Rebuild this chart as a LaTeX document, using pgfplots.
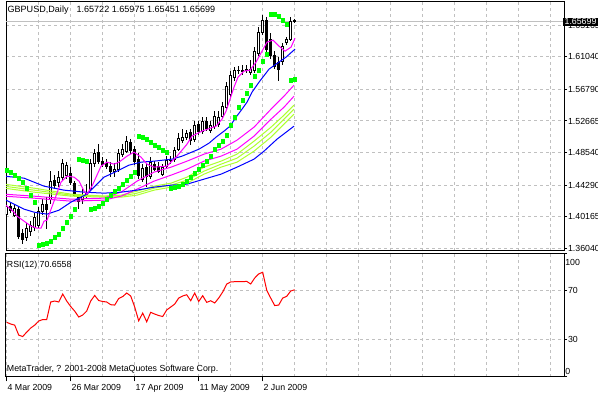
\documentclass[border=0pt]{standalone}
\usepackage{fontspec}
\setmainfont{Liberation Sans}
\usepackage{pgfplots}
\pgfplotsset{compat=1.18}
\usepackage{pgfplotstable}
\usetikzlibrary{calc}
\newcommand\mt{\fontsize{6.6pt}{8pt}\selectfont}
\definecolor{mtgrid}{RGB}{192,192,192}
\definecolor{mtmag}{RGB}{255,0,255}
\definecolor{mtgy}{RGB}{173,255,47}
\definecolor{mtblue}{RGB}{0,0,255}
\definecolor{mtlime}{RGB}{0,255,0}

\pgfplotstableread{
i o h l c
0 1.40514 1.42079 1.39861 1.41557
1 1.41557 1.41948 1.40644 1.41035
2 1.40383 1.41818 1.40122 1.41296
3 1.41166 1.41427 1.37253 1.37644
4 1.38035 1.38557 1.36601 1.37253
5 1.37514 1.39340 1.36992 1.38688
6 1.38296 1.39601 1.37644 1.39079
7 1.38818 1.40644 1.38296 1.40122
8 1.39079 1.41427 1.38688 1.40905
9 1.40905 1.42470 1.40383 1.41818
10 1.41818 1.42731 1.38557 1.41166
11 1.42470 1.46122 1.41818 1.44818
12 1.44948 1.45600 1.43774 1.44296
13 1.44687 1.46122 1.44035 1.45340
14 1.45340 1.47687 1.44818 1.47166
15 1.45600 1.47296 1.45079 1.46905
16 1.45861 1.46644 1.44296 1.44687
17 1.44557 1.44818 1.42731 1.42992
18 1.42731 1.42992 1.41166 1.42209
19 1.42470 1.43774 1.41818 1.42992
20 1.42992 1.44426 1.42470 1.43383
21 1.43774 1.47687 1.43513 1.47166
22 1.47166 1.48992 1.46644 1.48470
23 1.48600 1.49644 1.47035 1.47426
24 1.47426 1.47948 1.46644 1.47035
25 1.47166 1.47687 1.46383 1.46774
26 1.46774 1.47296 1.45340 1.46122
27 1.46122 1.47166 1.45340 1.46383
28 1.46383 1.48992 1.45992 1.48470
29 1.48339 1.49644 1.47948 1.48992
30 1.48731 1.50687 1.48470 1.50035
31 1.49905 1.50296 1.48339 1.48861
32 1.48992 1.49383 1.46905 1.47426
33 1.47687 1.48470 1.45079 1.45600
34 1.45079 1.47035 1.44687 1.46513
35 1.46644 1.47166 1.44035 1.45470
36 1.45470 1.47948 1.45079 1.47296
37 1.47035 1.47426 1.46122 1.46383
38 1.46774 1.47296 1.45861 1.46122
39 1.45731 1.47035 1.45470 1.46644
40 1.46774 1.48079 1.46383 1.47557
41 1.47557 1.48079 1.47035 1.47492
42 1.47687 1.49252 1.47296 1.48861
43 1.48992 1.51078 1.48731 1.50426
44 1.50165 1.51600 1.49774 1.50557
45 1.50557 1.51470 1.50165 1.51078
46 1.51209 1.51600 1.49513 1.50165
47 1.50296 1.52644 1.49905 1.52122
48 1.52252 1.52644 1.50818 1.51339
49 1.51339 1.53165 1.50948 1.52644
50 1.52644 1.53165 1.51339 1.51731
51 1.51470 1.52644 1.51078 1.52122
52 1.51991 1.53948 1.51600 1.53296
53 1.52252 1.53948 1.51861 1.53165
54 1.53296 1.55122 1.53035 1.54600
55 1.54470 1.57730 1.54209 1.57209
56 1.56165 1.59165 1.55774 1.58643
57 1.58382 1.59687 1.57861 1.59296
58 1.59296 1.59817 1.58774 1.59230
59 1.59165 1.59948 1.58643 1.59296
60 1.59361 1.59948 1.58904 1.59256
61 1.59035 1.60600 1.58643 1.59426
62 1.59296 1.62295 1.58904 1.61774
63 1.61513 1.64904 1.61121 1.64252
64 1.64252 1.66469 1.63861 1.65817
65 1.65817 1.66208 1.61513 1.62035
66 1.63339 1.64121 1.60730 1.61252
67 1.61252 1.61774 1.59426 1.59817
68 1.60339 1.60991 1.57861 1.59426
69 1.60469 1.62817 1.59948 1.62426
70 1.62948 1.63600 1.62556 1.63339
71 1.63339 1.66208 1.63078 1.65687
72 1.65722 1.65975 1.65451 1.65699
}\candles

\pgfplotstableread{
i sar
0 1.46253
1 1.45992
2 1.45600
3 1.45209
4 1.44687
5 1.43905
6 1.42992
7 1.42079
8 1.36470
9 1.36601
10 1.36731
11 1.36992
12 1.37514
13 1.37905
14 1.38688
15 1.39470
16 1.40253
17 1.41166
18 1.47687
19 1.47557
20 1.47426
21 1.41166
22 1.41296
23 1.41557
24 1.41948
25 1.42470
26 1.42992
27 1.43513
28 1.43905
29 1.44426
30 1.44948
31 1.45470
32 1.45992
33 1.50687
34 1.50557
35 1.50296
36 1.49905
37 1.49513
38 1.49252
39 1.48861
40 1.48600
41 1.43905
42 1.44035
43 1.44166
44 1.44426
45 1.44818
46 1.45340
47 1.45861
48 1.46383
49 1.46905
50 1.47426
51 1.48079
52 1.48992
53 1.49513
54 1.50035
55 1.50818
56 1.52122
57 1.53165
58 1.54470
59 1.55383
60 1.56296
61 1.57339
62 1.58513
63 1.59296
64 1.60469
65 1.61382
66 1.66600
67 1.66600
68 1.66339
69 1.65817
70 1.65295
71 1.57991
72 1.58122
}\sar

\pgfplotstableread{
i rsi
0 44.2
1 42.8
2 41.9
3 33.8
4 32.6
5 36.2
6 39.5
7 41.9
8 45.2
9 46.4
10 46.4
11 60.7
12 61.5
13 60.7
14 67.2
15 61.5
16 57.0
17 53.3
18 48.5
19 50.1
20 53.3
21 61.5
22 66.0
23 61.9
24 61.1
25 60.7
26 58.5
27 58.2
28 63.5
29 65.1
30 68.0
31 65.6
32 56.6
33 45.4
34 51.7
35 44.6
36 52.3
37 50.9
38 49.7
39 48.9
40 54.2
41 56.6
42 59.0
43 63.9
44 65.6
45 66.6
46 61.7
47 68.0
48 61.1
49 65.8
50 60.4
51 61.7
52 59.9
53 63.9
54 68.8
55 75.3
56 77.0
57 77.2
58 77.2
59 77.2
60 77.5
61 75.3
62 80.2
63 83.5
64 84.9
65 70.4
66 63.9
67 57.8
68 58.2
69 63.9
70 65.3
71 69.6
72 70.6558
}\rsi

\pgfplotsset{
  mtaxis/.style={scale only axis, width=418.5pt, xmin=-0.175, xmax=139.325},
  mtmain/.style={mtaxis, anchor=north west, at={(1.5,-1.5)}, height=187.125pt, ymin=1.35753, ymax=1.68295},
}

\begin{document}
\begin{tikzpicture}[x=1pt,y=1pt]
\fill[white] (0,0) rectangle (448.5,-296.25);
\path[use as bounding box] (0,0) rectangle (448.5,-296.25);

% ---- main panel: frame, grid, wicks
\begin{axis}[mtmain, name=main,
  axis line style={black, line width=0.75pt},
  xtick={0,8,...,136}, xticklabels={}, xtick style={draw=none},
  ytick={1.36040,1.40165,1.44290,1.48540,1.52665,1.56790,1.61040,1.65165},
  yticklabels={1.36040,1.40165,1.44290,1.48540,1.52665,1.56790,1.61040,1.65165},
  ytick pos=right, yticklabel pos=right, tick align=outside, major tick length=2.25pt,
  ytick style={black, line width=0.75pt},
  yticklabel style={font=\mt, inner sep=0.6pt},
  grid=major, major grid style={mtgrid, line width=0.75pt, dash pattern=on 2.25pt off 2.25pt},
]
\addplot[mtgrid, line width=0.75pt] coordinates {(-1,1.65699) (140,1.65699)};
\addplot[draw=none, mark=none, error bars/.cd, y dir=minus, y explicit, error mark=none,
  error bar style={draw=black, line width=0.75pt, solid}]
  table[x=i, y=h, y error expr=\thisrow{h}-\thisrow{l}] {\candles};
\end{axis}

% ---- candle bodies
\begin{axis}[mtmain, hide axis, ybar stacked, bar width=0.6]
\addplot[draw=none, fill=none] table[x=i, y expr={min(\thisrow{o},\thisrow{c})}] {\candles};
\addplot[fill=white, draw=black, line width=0.75pt] table[x=i, y expr={max(\thisrow{c}-\thisrow{o},0)}] {\candles};
\addplot[fill=black, draw=black, line width=0.75pt] table[x=i, y expr={max(\thisrow{o}-\thisrow{c},0)}] {\candles};
\end{axis}

% ---- indicators
\begin{axis}[mtmain, hide axis]
\addplot[mtgy, line width=0.75pt] coordinates {(-0.68,1.43905) (6.83,1.43383) (16.08,1.42861) (24.33,1.42731) (28.58,1.42731) (32.58,1.42992) (36.83,1.43644) (41.08,1.44035) (45.08,1.44557) (49.33,1.45731) (53.58,1.46644) (57.58,1.47296) (61.83,1.48731) (66.08,1.50557) (69.33,1.52252) (71.83,1.53557)};
\addplot[mtgy, line width=0.75pt] coordinates {(-0.68,1.44166) (6.83,1.43644) (16.08,1.42992) (24.33,1.42861) (28.58,1.42861) (32.58,1.43253) (36.83,1.43905) (41.08,1.44296) (45.08,1.44948) (49.33,1.46122) (53.58,1.47035) (57.58,1.47818) (61.83,1.49383) (66.08,1.51209) (69.33,1.52904) (71.83,1.54209)};
\addplot[mtgy, line width=0.75pt] coordinates {(-0.68,1.44426) (6.83,1.43905) (16.08,1.43122) (24.33,1.42861) (28.58,1.42992) (32.58,1.43513) (36.83,1.44166) (41.08,1.44557) (45.08,1.45340) (49.33,1.46644) (53.58,1.47426) (57.58,1.48339) (61.83,1.50035) (66.08,1.51861) (69.33,1.53426) (71.83,1.54730)};
\addplot[mtmag, line width=0.75pt] coordinates {(-0.68,1.42861) (6.83,1.42600) (16.08,1.42209) (24.33,1.42340) (28.58,1.42861) (32.58,1.43774) (36.83,1.44818) (41.08,1.45600) (45.08,1.46383) (49.33,1.47426) (53.58,1.48079) (57.58,1.48992) (61.83,1.50687) (66.08,1.52904) (69.33,1.54470) (71.83,1.55904)};
\addplot[mtmag, line width=0.75pt] coordinates {(-0.68,1.43122) (6.83,1.42861) (16.08,1.42470) (24.33,1.42600) (28.58,1.43383) (32.58,1.44818) (36.83,1.45992) (41.08,1.46644) (45.08,1.47426) (49.33,1.48339) (53.58,1.48992) (57.58,1.50165) (61.83,1.51861) (66.08,1.54209) (69.33,1.55904) (71.83,1.57339)};
\addplot[mtblue, line width=0.75pt] coordinates {(-0.68,1.45470) (4.33,1.45209) (9.33,1.44166) (14.33,1.43644) (19.33,1.43383) (24.33,1.43253) (28.58,1.43383) (32.58,1.43644) (36.83,1.44035) (41.08,1.44296) (45.08,1.44426) (49.33,1.45079) (53.58,1.45731) (57.58,1.46644) (61.83,1.47687) (64.33,1.48731) (67.58,1.50296) (71.83,1.51991)};
\addplot[mtblue, line width=0.75pt] coordinates {(-0.68,1.42470) (1.83,1.41818) (4.33,1.41166) (6.83,1.40774) (10.08,1.40514) (13.08,1.41035) (16.08,1.42079) (20.08,1.43122) (21.83,1.44035) (24.33,1.45340) (27.58,1.46122) (30.58,1.46905) (33.58,1.47296) (36.83,1.47426) (41.33,1.47687) (43.83,1.48079) (48.08,1.48992) (50.58,1.49774) (52.33,1.50557) (54.33,1.51339) (55.83,1.51991) (57.33,1.53165) (58.83,1.54209) (60.08,1.55122) (61.33,1.56426) (63.08,1.57730) (65.58,1.59426) (67.33,1.60078) (69.83,1.60991) (72.08,1.62035)};
\addplot[mtmag, line width=0.75pt] coordinates {(-0.5,1.41818) (1.83,1.40774) (2.58,1.40253) (4.33,1.39601) (6.08,1.38948) (7.58,1.38688) (8.58,1.38688) (9.33,1.39601) (10.08,1.39731) (11.83,1.42209) (13.58,1.44687) (15.08,1.45470) (16.83,1.45340) (18.08,1.44818) (19.33,1.43513) (20.08,1.43122) (21.33,1.44166) (23.58,1.46774) (25.08,1.47296) (26.83,1.47035) (28.08,1.47296) (30.08,1.48079) (31.83,1.48600) (33.58,1.47948) (35.08,1.47035) (36.83,1.46644) (40.08,1.46774) (42.58,1.48079) (45.08,1.49644) (46.33,1.50687) (48.83,1.51339) (52.33,1.51991) (53.83,1.52904) (54.83,1.53948) (55.83,1.55513) (56.83,1.57078) (57.83,1.58382) (59.33,1.59165) (60.83,1.59296) (62.33,1.60339) (63.83,1.61774) (65.08,1.62948) (66.58,1.63208) (68.08,1.62426) (69.58,1.61774) (71.08,1.62295) (72.08,1.63469)};
\addplot[only marks, mark=square*, mark size=1.25pt, color=mtlime] table[x=i, y=sar] {\sar};
\end{axis}

% ---- RSI panel
\begin{axis}[mtaxis, anchor=north west, at={($(main.south west)+(0pt,-2.25pt)$)}, height=92.25pt, ymin=0, ymax=100,
  axis line style={black, line width=0.75pt},
  xtick={0,8,...,136}, xticklabels={}, xtick style={draw=none}, xtick pos=left,
  extra x ticks={0,16,32,48,64},
  extra x tick labels={4 Mar 2009,26 Mar 2009,17 Apr 2009,11 May 2009,2 Jun 2009},
  extra x tick style={grid=none, xtick style={draw=black, line width=0.75pt}, major tick length=3.5pt,
    xticklabel style={anchor=north west, inner sep=0.5pt, yshift=-1.6pt, font=\mt}},
  ytick={30,70}, yticklabels={30,70},
  ytick pos=right, yticklabel pos=right, tick align=outside, major tick length=2.25pt,
  ytick style={black, line width=0.75pt},
  yticklabel style={font=\mt, inner sep=0.6pt},
  extra y ticks={0,100}, extra y tick labels={}, extra y tick style={grid=none},
  grid=major, major grid style={mtgrid, line width=0.75pt, dash pattern=on 2.25pt off 2.25pt},
]
\addplot[red, line width=0.75pt] table[x=i, y=rsi] {\rsi};
\end{axis}

% ---- texts
\node[anchor=west, inner sep=0pt, font=\fontsize{6.8pt}{8pt}\selectfont] at (5.5,-7.9) {GBPUSD,Daily\hspace{6pt}1.65722 1.65975 1.65451 1.65699};
\node[anchor=west, inner sep=0pt, font=\mt] at (5,-198.75) {RSI(12) 70.6558};
\node[anchor=west, inner sep=0pt, font=\mt] at (5,-277) {MetaTrader, ? 2001-2008 MetaQuotes Software Corp.};
\node[anchor=west, inner sep=0pt, font=\mt] at (423.75,-196.5) {100};
\node[anchor=west, inner sep=0pt, font=\mt] at (423.75,-278.8) {0};
\node[anchor=west, fill=black, text=white, inner xsep=1pt, inner ysep=0.9pt, font=\mt] at (422.25,-16.4) {1.65699};
\end{tikzpicture}
\end{document}
